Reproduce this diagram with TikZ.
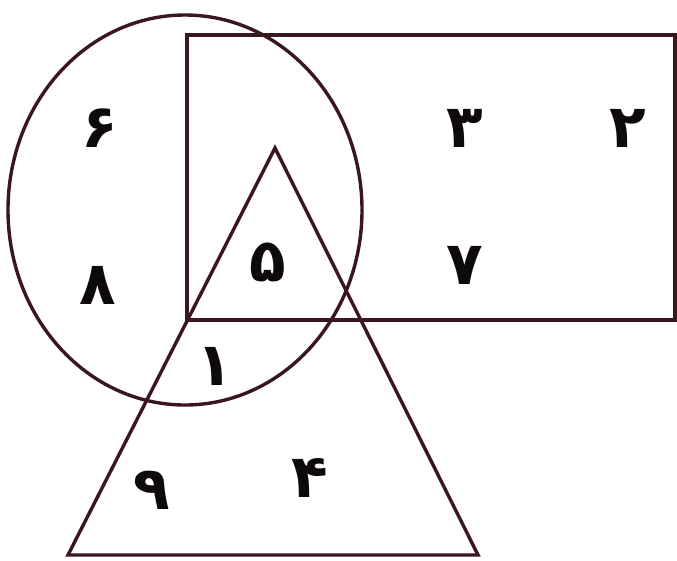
\documentclass[tikz,border=0pt]{standalone}
\usepackage{fontspec}
\usepackage{tikz}
\newfontfamily\arabicfont[Script=Arabic]{DejaVu Sans}
\definecolor{setline}{RGB}{58, 22, 30}
\definecolor{digitink}{RGB}{15, 10, 10}

\begin{document}
\begin{tikzpicture}[
        x=1pt, y=-1pt,
        setshape/.style={draw=setline, line width=3.4pt},
        digit/.style={text=digitink, font=\arabicfont\bfseries\fontsize{60}{62}\selectfont, inner sep=0pt}
    ]
        \useasboundingbox (0, 0) rectangle (677, 560);

        % Sets
        \draw[setshape] (185, 210) ellipse [x radius=177, y radius=195];
        \draw[setshape] (187, 35) rectangle (675, 320);
        \draw[setshape] (275, 148) -- (68, 555) -- (478, 555) -- cycle;

        % Digits
        \node[digit] (six) at (100, 128) {۶};
        \node[digit] (eight) at (98, 285) {۸};
        \node[digit] (three) at (465, 128) {۳};
        \node[digit] (two) at (628, 128) {۲};
        \node[digit] (five) at (268, 262) {۵};
        \node[digit] (seven) at (465, 265) {۷};
        \node[digit] (one) at (215, 366) {۱};
        \node[digit] (nine) at (152, 490) {۹};
        \node[digit] (four) at (310, 478) {۴};

    \end{tikzpicture}
\end{document}
